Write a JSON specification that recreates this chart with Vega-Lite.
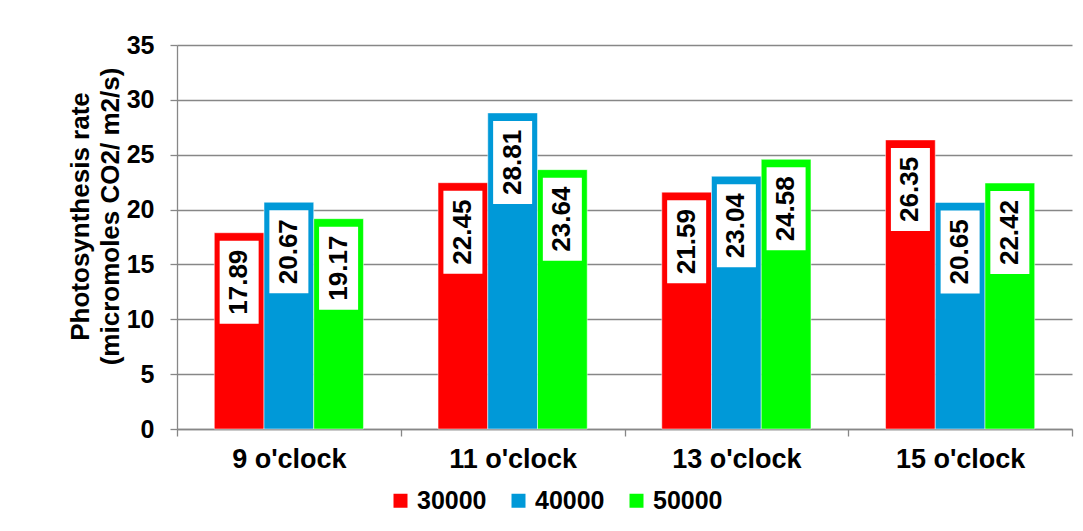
{
  "$schema": "https://vega.github.io/schema/vega-lite/v6.json",
  "width": 895,
  "height": 384,
  "autosize": {"type": "none"},
  "padding": {"left": 177, "top": 45, "right": 11, "bottom": 102},
  "background": "white",
  "config": {"view": {"stroke": null}, "font": "Liberation Sans"},
  "data": {
    "values": [
      {"time": "9 o'clock", "light": "30000", "rate": 17.89},
      {"time": "9 o'clock", "light": "40000", "rate": 20.67},
      {"time": "9 o'clock", "light": "50000", "rate": 19.17},
      {"time": "11 o'clock", "light": "30000", "rate": 22.45},
      {"time": "11 o'clock", "light": "40000", "rate": 28.81},
      {"time": "11 o'clock", "light": "50000", "rate": 23.64},
      {"time": "13 o'clock", "light": "30000", "rate": 21.59},
      {"time": "13 o'clock", "light": "40000", "rate": 23.04},
      {"time": "13 o'clock", "light": "50000", "rate": 24.58},
      {"time": "15 o'clock", "light": "30000", "rate": 26.35},
      {"time": "15 o'clock", "light": "40000", "rate": 20.65},
      {"time": "15 o'clock", "light": "50000", "rate": 22.42}
    ]
  },
  "encoding": {
    "x": {
      "field": "time", "type": "nominal",
      "sort": ["9 o'clock", "11 o'clock", "13 o'clock", "15 o'clock"],
      "scale": {"paddingInner": 0, "paddingOuter": 0},
      "axis": {
        "title": null, "labelAngle": 0, "labelFontSize": 27, "labelFontWeight": "bold",
        "labelColor": "black", "labelPadding": 10,
        "domainColor": "#878787", "domainWidth": 1.3,
        "tickBand": "extent", "tickSize": 7, "tickColor": "#878787", "tickWidth": 1.3
      }
    },
    "xOffset": {
      "field": "light", "type": "nominal", "sort": ["30000", "40000", "50000"],
      "scale": {"paddingInner": 0, "paddingOuter": 0.75}
    },
    "y": {
      "field": "rate", "type": "quantitative",
      "scale": {"domain": [0, 35], "nice": false},
      "axis": {
        "values": [0, 5, 10, 15, 20, 25, 30, 35],
        "grid": true, "gridColor": "#878787", "gridWidth": 1.3,
        "domainColor": "#878787", "domainWidth": 1.3,
        "tickColor": "#878787", "tickWidth": 1.3, "tickSize": 7,
        "labelFontSize": 25, "labelFontWeight": "bold", "labelColor": "black", "labelPadding": 16,
        "title": ["Photosynthesis rate", "(micromoles CO2/ m2/s)"],
        "titleFontSize": 26, "titleFontWeight": "bold", "titleColor": "black",
        "titleX": -97, "titleY": 171, "titleAngle": 270, "titleAlign": "center",
        "titleBaseline": "middle", "titleLineHeight": 30
      }
    }
  },
  "layer": [
    {
      "mark": {"type": "bar", "stroke": "white", "strokeWidth": 1, "strokeOpacity": 0.5},
      "encoding": {
        "color": {
          "field": "light", "type": "nominal",
          "scale": {"domain": ["30000", "40000", "50000"], "range": ["#FF0000", "#0099D8", "#00FF00"]},
          "legend": {
            "title": null, "orient": "none", "direction": "horizontal",
            "legendX": 211, "legendY": 443, "padding": 0,
            "symbolType": "square", "symbolSize": 196, "symbolStrokeWidth": 0, "symbolOpacity": 1,
            "labelFontSize": 25, "labelFontWeight": "bold", "labelColor": "black",
            "labelOffset": 4, "columnPadding": 19
          }
        }
      }
    },
    {
      "mark": {"type": "point", "shape": "M-0.195,0.08H0.195V0.91H-0.195Z", "size": 40000, "filled": true, "fill": "white", "opacity": 1, "strokeWidth": 0}
    },
    {
      "mark": {"type": "text", "angle": 270, "align": "center", "baseline": "middle", "dx": -49.5, "fontSize": 26, "fontWeight": "bold", "color": "black"},
      "encoding": {"text": {"field": "rate", "type": "quantitative", "format": ".2f"}}
    }
  ]
}
